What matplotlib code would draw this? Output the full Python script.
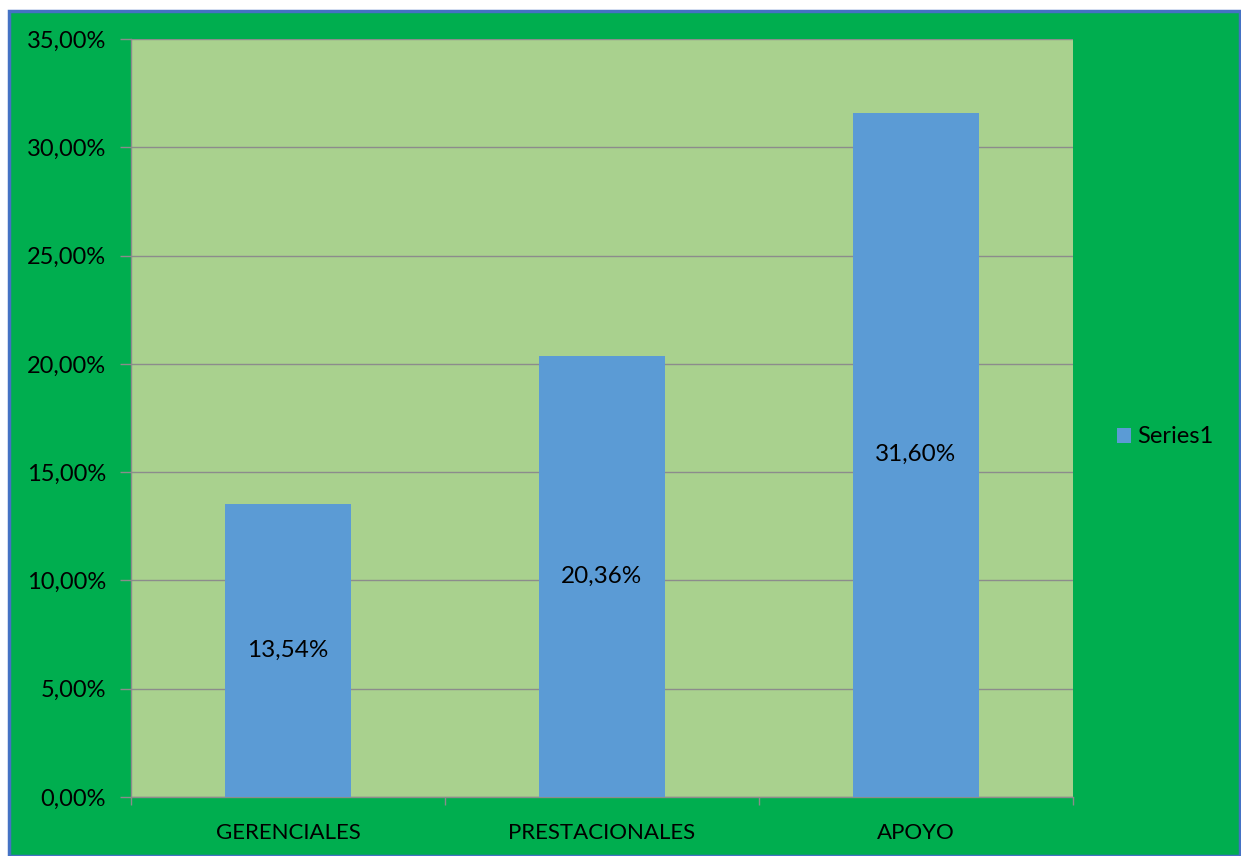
import matplotlib.pyplot as plt
from matplotlib.patches import Rectangle
from matplotlib.ticker import FuncFormatter, MultipleLocator

categories = ["GERENCIALES", "PRESTACIONALES", "APOYO"]
values = [13.54, 20.36, 31.60]
series_name = "Series1"

plt.rcParams["font.family"] = ["Lato", "DejaVu Sans"]

fig = plt.figure(figsize=(12.41, 8.56), dpi=100)
fig.patch.set_facecolor("white")

# green chart area with a blue frame
fig.add_artist(Rectangle((8.5 / 1241, 0), 1 - 10 / 1241, 1 - 10.5 / 856,
                         transform=fig.transFigure, facecolor="#00AE4F",
                         edgecolor="#4472C4", linewidth=2.5, zorder=-10))

ax = fig.add_axes([131 / 1241, 59 / 856, 942 / 1241, 758 / 856])
ax.set_facecolor("#A9D18E")

x = range(len(categories))
bars = ax.bar(x, values, width=0.4, color="#5B9BD5", zorder=3, label=series_name)
for rect, v in zip(bars, values):
    ax.text(rect.get_x() + rect.get_width() / 2, v / 2,
            f"{v:.2f}%".replace(".", ","), ha="center", va="center",
            fontsize=17.5, color="black", zorder=4)

ax.set_xlim(-0.5, len(categories) - 0.5)
ax.set_ylim(0, 35)
ax.yaxis.set_major_locator(MultipleLocator(5))
ax.yaxis.set_major_formatter(FuncFormatter(lambda v, p: f"{v:.2f}%".replace(".", ",")))
ax.grid(axis="y", color="#8C8C8C", linewidth=1, zorder=1)
ax.set_axisbelow(True)

ax.set_xticks(list(x))
ax.set_xticklabels(categories)
ax.set_xticks([i - 0.5 for i in range(len(categories) + 1)], minor=True)
ax.tick_params(axis="x", which="major", length=0, pad=19, labelsize=16)
ax.tick_params(axis="x", which="minor", length=6, color="#8C8C8C", width=1)
ax.tick_params(axis="y", length=8, color="#8C8C8C", width=1, pad=10, labelsize=17)

for side in ["top", "right"]:
    ax.spines[side].set_visible(False)
for side in ["left", "bottom"]:
    ax.spines[side].set_color("#8C8C8C")
    ax.spines[side].set_linewidth(1)

ax.legend(loc="center left", bbox_to_anchor=(1.024, 0.475), frameon=False,
          fontsize=17, handlelength=0.6, handleheight=0.6, handletextpad=0.25)

fig.savefig("out.png", dpi=100, facecolor=fig.get_facecolor())
